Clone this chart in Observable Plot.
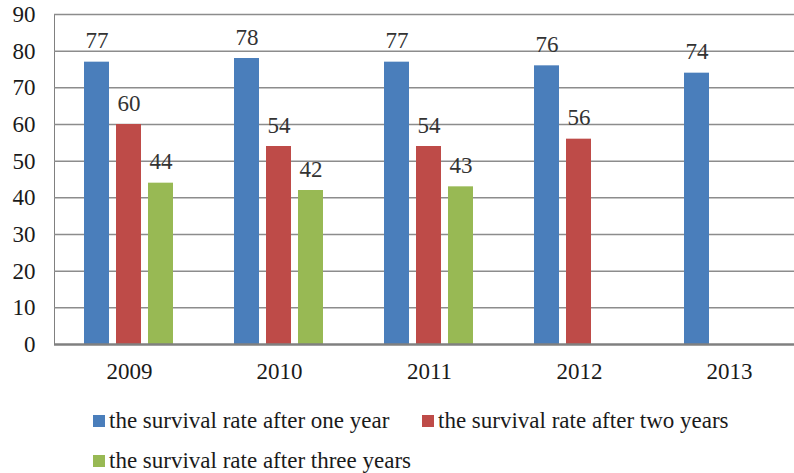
<!DOCTYPE html>
<html>
<head>
<meta charset="utf-8">
<script src="https://cdn.jsdelivr.net/npm/d3@7"></script>
<script src="https://cdn.jsdelivr.net/npm/@observablehq/plot@0.6"></script>
<style>
  html, body { margin: 0; padding: 0; background: #fff; overflow: hidden; }
  body { width: 794px; height: 473px; position: relative; font-family: "Liberation Serif", "Times New Roman", serif; }
  #chart { position: absolute; left: 0; top: 0; }
  #chart svg g[aria-label*="axis"] text { fill: #1a1a1a; }
  #chart svg g[aria-label*="axis"] path, #chart svg g[aria-label*="axis"] line { stroke-width: 2; }
  .legend { position: absolute; left: 0; top: 0; font-size: 23px; color: #1a1a1a; }
  .item { position: absolute; display: flex; align-items: center; white-space: nowrap; }
  .sw { width: 12px; height: 12px; margin-right: 4px; }
</style>
</head>
<body>
<div id="chart"></div>
<div class="legend" id="legend"></div>
<script>
const years = ["2009", "2010", "2011", "2012", "2013"];
const seriesNames = [
  "the survival rate after one year",
  "the survival rate after two years",
  "the survival rate after three years"
];
const oneYear = [77, 78, 77, 76, 74];
const twoYears = [60, 54, 54, 56, null];
const threeYears = [44, 42, 43, null, null];
const colors = ["#4a7ebb", "#be4b48", "#98b954"];
const yTicks = [0, 10, 20, 30, 40, 50, 60, 70, 80, 90];

const allSeries = [oneYear, twoYears, threeYears];
const data = [];
years.forEach((y, i) => {
  allSeries.forEach((s, k) => {
    if (s[i] != null) data.push({year: y, series: seriesNames[k], value: s[i]});
  });
});

const chart = Plot.plot({
  width: 794,
  height: 395,
  marginTop: 14,
  marginBottom: 51,
  marginLeft: 53,
  marginRight: -11,
  style: {fontFamily: "'Liberation Serif', 'Times New Roman', serif", fontSize: "23px", color: "#808080", overflow: "hidden"},
  fx: {domain: years, paddingInner: 0, paddingOuter: 0, label: null, tickSize: 0, tickPadding: 18},
  x: {domain: seriesNames, paddingInner: 0.212, paddingOuter: 0.883, axis: null},
  y: {domain: [0, 90], ticks: yTicks, label: null, tickSize: 0, tickPadding: 19, line: true},
  color: {domain: seriesNames, range: colors},
  facet: {data: data, x: "year"},
  marks: [
    Plot.ruleY(yTicks.filter(d => d > 0), {stroke: "#8c8c8c", strokeWidth: 1.5, strokeOpacity: 1}),
    Plot.barY(data, {x: "series", y: "value", fill: "series"}),
    Plot.text(data, {x: "series", y: "value", text: d => String(d.value), dy: -14, lineAnchor: "bottom", fill: "#333", fontSize: 23}),
    Plot.ruleY([0], {stroke: "#808080", strokeWidth: 2.5})
  ]
});
document.getElementById("chart").appendChild(chart);

const legend = document.getElementById("legend");
const positions = [[93, 421], [422, 421], [93, 461]];
seriesNames.forEach((name, k) => {
  const it = document.createElement("div");
  it.className = "item";
  it.style.left = positions[k][0] + "px";
  it.style.top = (positions[k][1] - 14) + "px";
  it.style.height = "28px";
  const sw = document.createElement("span");
  sw.className = "sw";
  sw.style.background = colors[k];
  const tx = document.createElement("span");
  tx.textContent = name;
  it.appendChild(sw);
  it.appendChild(tx);
  legend.appendChild(it);
});
</script>
</body>
</html>
